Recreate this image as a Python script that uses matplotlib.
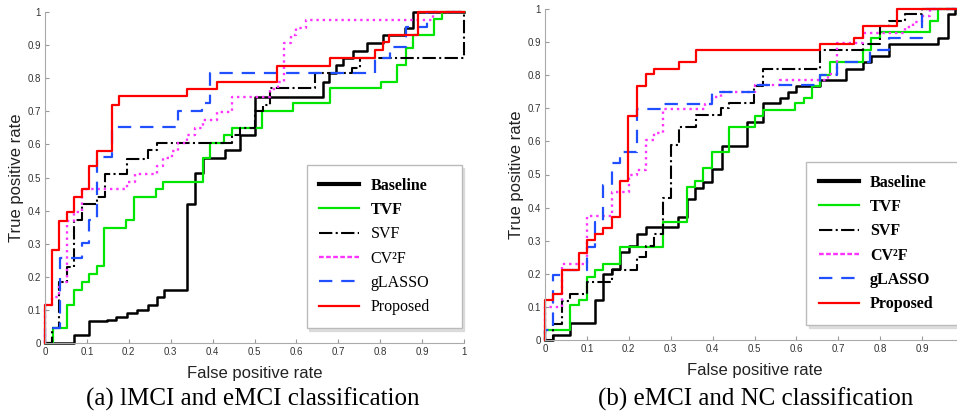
import numpy as np
import matplotlib
matplotlib.use("Agg")
from matplotlib import pyplot as plt

# ROC steps: (fpr, tpr) -- at each fpr the curve jumps up to tpr
methods = ["Baseline", "TVF", "SVF", "CV²F", "gLASSO", "Proposed"]

# (a) lMCI vs eMCI
a_baseline = [(0, 0), (0.07, 0.025), (0.106, 0.067), (0.147, 0.07), (0.17, 0.08),
              (0.195, 0.09), (0.22, 0.1), (0.247, 0.115), (0.267, 0.138), (0.284, 0.16),
              (0.34, 0.42), (0.358, 0.513), (0.376, 0.558), (0.43, 0.583), (0.465, 0.628),
              (0.501, 0.744), (0.663, 0.79), (0.678, 0.815), (0.695, 0.84), (0.712, 0.86),
              (0.734, 0.883), (0.768, 0.907), (0.806, 0.93), (0.859, 0.953), (0.878, 1.0),
              (1.0, 1.0)]
a_tvf = [(0, 0), (0.018, 0.045), (0.052, 0.115), (0.07, 0.16), (0.088, 0.185),
         (0.106, 0.209), (0.125, 0.232), (0.142, 0.348), (0.193, 0.372), (0.213, 0.442),
         (0.266, 0.465), (0.282, 0.487), (0.376, 0.558), (0.394, 0.603), (0.427, 0.628),
         (0.446, 0.65), (0.517, 0.7), (0.591, 0.724), (0.68, 0.769), (0.803, 0.79),
         (0.839, 0.84), (0.862, 0.89), (0.878, 0.93), (0.928, 0.98), (0.947, 1.0), (1.0, 1.0)]
a_svf = [(0, 0), (0.017, 0.045), (0.034, 0.185), (0.052, 0.23), (0.069, 0.372),
         (0.088, 0.42), (0.123, 0.442), (0.143, 0.51), (0.195, 0.556), (0.247, 0.582),
         (0.267, 0.605), (0.446, 0.628), (0.465, 0.65), (0.501, 0.7), (0.521, 0.72),
         (0.537, 0.769), (0.644, 0.815), (0.732, 0.83), (0.752, 0.862), (1.0, 1.0)]
a_cv2f = [(0, 0), (0, 0.115), (0.016, 0.14), (0.034, 0.185), (0.052, 0.37), (0.07, 0.395),
          (0.088, 0.465), (0.195, 0.487), (0.215, 0.51), (0.267, 0.535), (0.282, 0.558),
          (0.302, 0.58), (0.318, 0.605), (0.338, 0.628), (0.358, 0.65), (0.376, 0.675),
          (0.41, 0.698), (0.446, 0.744), (0.537, 0.768), (0.557, 0.79), (0.57, 0.905),
          (0.588, 0.93), (0.6, 0.953), (0.623, 0.977), (0.927, 1.0), (1.0, 1.0)]
a_glasso = [(0, 0), (0, 0.045), (0.036, 0.257), (0.088, 0.303), (0.106, 0.372),
            (0.123, 0.563), (0.159, 0.652), (0.318, 0.7), (0.374, 0.724), (0.394, 0.815),
            (0.788, 0.86), (0.823, 0.895), (0.862, 0.955), (0.911, 1.0), (1.0, 1.0)]
a_proposed = [(0, 0), (0, 0.115), (0.016, 0.28), (0.034, 0.37), (0.052, 0.395),
              (0.069, 0.442), (0.088, 0.465), (0.106, 0.535), (0.124, 0.58), (0.159, 0.72),
              (0.177, 0.745), (0.338, 0.767), (0.411, 0.79), (0.553, 0.837), (0.68, 0.862),
              (0.788, 0.884), (0.806, 0.91), (0.821, 0.93), (0.891, 1.0), (1.0, 1.0)]

# (b) eMCI vs NC
b_baseline = [(0, 0), (0.02, 0.015), (0.06, 0.05), (0.119, 0.121), (0.139, 0.2),
              (0.159, 0.213), (0.179, 0.265), (0.2, 0.285), (0.219, 0.32), (0.24, 0.34),
              (0.318, 0.373), (0.338, 0.425), (0.358, 0.458), (0.378, 0.478), (0.398, 0.516),
              (0.422, 0.586), (0.481, 0.66), (0.521, 0.715), (0.561, 0.73), (0.581, 0.75),
              (0.599, 0.768), (0.656, 0.785), (0.718, 0.82), (0.758, 0.84), (0.778, 0.857),
              (0.82, 0.894), (0.939, 0.911), (0.963, 0.985), (0.979, 1.0), (1.0, 1.0)]
b_tvf = [(0, 0), (0, 0.03), (0.06, 0.106), (0.08, 0.121), (0.1, 0.191), (0.119, 0.211),
         (0.139, 0.229), (0.179, 0.282), (0.281, 0.355), (0.338, 0.463), (0.358, 0.481),
         (0.378, 0.519), (0.398, 0.569), (0.44, 0.643), (0.501, 0.677), (0.521, 0.695),
         (0.597, 0.715), (0.617, 0.73), (0.637, 0.766), (0.656, 0.8), (0.68, 0.84),
         (0.758, 0.876), (0.778, 0.911), (0.8, 0.93), (0.919, 0.965), (0.939, 1.0), (1.0, 1.0)]
b_svf = [(0, 0), (0.018, 0.048), (0.04, 0.119), (0.06, 0.139), (0.1, 0.175), (0.159, 0.211),
         (0.219, 0.25), (0.24, 0.285), (0.26, 0.32), (0.281, 0.428), (0.3, 0.589),
         (0.32, 0.644), (0.36, 0.68), (0.419, 0.7), (0.44, 0.715), (0.499, 0.768),
         (0.52, 0.82), (0.656, 0.876), (0.758, 0.894), (0.8, 0.949), (0.82, 0.965),
         (0.859, 0.985), (0.899, 1.0), (1.0, 1.0)]
b_cv2f = [(0, 0), (0, 0.1), (0.04, 0.23), (0.1, 0.375), (0.159, 0.447), (0.2, 0.497),
          (0.219, 0.515), (0.24, 0.604), (0.26, 0.626), (0.281, 0.697), (0.382, 0.714),
          (0.398, 0.735), (0.419, 0.75), (0.501, 0.77), (0.561, 0.787), (0.676, 0.804),
          (0.696, 0.896), (0.76, 0.928), (0.859, 0.946), (0.879, 0.962), (0.899, 0.98),
          (0.919, 1.0), (1.0, 1.0)]
b_glasso = [(0, 0), (0, 0.03), (0.02, 0.196), (0.04, 0.212), (0.1, 0.282), (0.119, 0.357),
            (0.139, 0.468), (0.159, 0.534), (0.179, 0.569), (0.219, 0.697), (0.28, 0.714),
            (0.398, 0.75), (0.5, 0.77), (0.656, 0.8), (0.696, 0.84), (0.776, 0.876),
            (0.82, 0.911), (0.899, 0.985), (0.91, 1.0), (1.0, 1.0)]
b_proposed = [(0, 0), (0, 0.121), (0.02, 0.139), (0.04, 0.21), (0.08, 0.264), (0.1, 0.302),
              (0.119, 0.319), (0.139, 0.337), (0.159, 0.371), (0.179, 0.481), (0.199, 0.677),
              (0.219, 0.767), (0.24, 0.804), (0.26, 0.82), (0.32, 0.84), (0.36, 0.875),
              (0.657, 0.895), (0.737, 0.911), (0.758, 0.949), (0.839, 1.0), (1.0, 1.0)]

captions = ["(a) lMCI and eMCI classification", "(b) eMCI and NC classification"]
ticks_a = np.round(np.arange(0, 1.01, 0.1), 1)
ticks_b = np.round(np.arange(0, 0.91, 0.1), 1)   # "1" falls outside the cropped panel

styles = [
    dict(color="black", ls="-", lw=1.8),
    dict(color="#00e600", ls="-", lw=1.6),
    dict(color="black", ls="-.", lw=1.5),
    dict(color="#ff33ff", ls=":", lw=1.7),
    dict(color="#1f4fff", ls=(0, (6, 4)), lw=1.6),
    dict(color="#ff0000", ls="-", lw=1.6),
]

fig = plt.figure(figsize=(9.57, 4.16), dpi=100)
ax1 = fig.add_axes([45 / 957, 1 - 343 / 416, 419 / 957, 331 / 416])
ax2 = fig.add_axes([545 / 957, 1 - 340 / 416, 419 / 957, 331 / 416])

# legend boxes in pixels: left, top, width
panels = [(ax1, [a_baseline, a_tvf, a_svf, a_cv2f, a_glasso, a_proposed], ticks_a, (306.7, 165, 155), [0, 1]),
          (ax2, [b_baseline, b_tvf, b_svf, b_cv2f, b_glasso, b_proposed], ticks_b, (806, 162, 155), range(6))]

for ax, curves, xt, box, bold in panels:
    for name, pts, st in zip(methods, curves, styles):
        x, y = zip(*pts)
        ax.plot(x, y, drawstyle="steps-post", label=name, clip_on=False, **st)
    ax.set_xlim(0, 1)
    ax.set_ylim(0, 1)
    ax.set_xticks(xt)
    ax.set_yticks(ticks_a)
    ax.set_xticklabels([f"{t:g}" for t in xt], family="Liberation Sans")
    ax.set_yticklabels([f"{t:g}" for t in ticks_a], family="Liberation Sans")
    for s in ["top", "right"]:
        ax.spines[s].set_visible(False)
    for s in ["left", "bottom"]:
        ax.spines[s].set_color("#aaaaaa")
        ax.spines[s].set_linewidth(0.8)
    ax.tick_params(direction="in", length=3, color="#999999", labelsize=7,
                   labelcolor="#333333", pad=3)
    ax.set_xlabel("False positive rate", fontsize=12, family="Liberation Sans", color="#222222")
    ax.set_ylabel("True positive rate", fontsize=12, family="Liberation Sans", color="#222222")
    ax.xaxis.set_label_coords(0.5, -0.092)
    ax.xaxis.label.set_va("center")
    ax.yaxis.set_label_coords(-0.067, 0.5)
    ax.yaxis.label.set_va("center")

    lx, ly, lw = box
    leg = ax.legend(loc="upper left", mode="expand",
                    bbox_to_anchor=(lx / 957, 1 - (ly + 170) / 416, lw / 957, 170 / 416),
                    bbox_transform=fig.transFigure, prop={"family": "Liberation Serif", "size": 11.5},
                    fancybox=False, edgecolor="#bbbbbb", framealpha=1,
                    shadow={"color": "0.8", "alpha": 0.6},
                    handlelength=2.5, handletextpad=0.7, labelspacing=0.52, borderpad=0.8,
                    borderaxespad=0)
    for i in bold:
        leg.get_texts()[i].set_fontweight("bold")
    leg.get_lines()[0].set_linewidth(3)
    leg.get_lines()[3].set_linestyle((0, (2, 1)))

fig.text(253 / 957, 1 - 399 / 416, captions[0], ha="center", va="center",
         family="Liberation Serif", fontsize=18)
fig.text(756 / 957, 1 - 399 / 416, captions[1], ha="center", va="center",
         family="Liberation Serif", fontsize=18)

fig.savefig("out.png", dpi=100)
